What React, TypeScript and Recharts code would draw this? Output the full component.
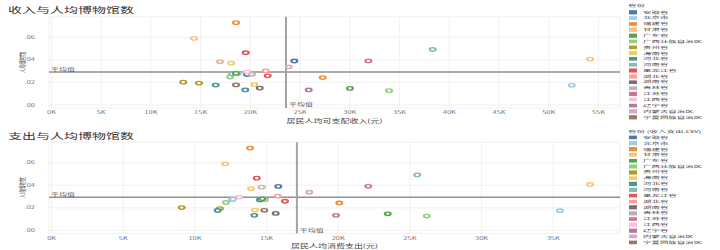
import React from 'react';
import { ScatterChart, Scatter, XAxis, YAxis, CartesianGrid, ReferenceLine } from 'recharts';

const provinces = [
  '安徽省', '北京市', '福建省', '甘肃省', '广东省', '广西壮族自治区', '贵州省', '海南省',
  '河北省', '河南省', '黑龙江省', '湖北省', '湖南省', '吉林省', '江苏省', '江西省',
  '辽宁省', '内蒙古自治区', '宁夏回族自治区', '青海省', '山东省', '山西省', '陕西省', '上海市',
  '四川省', '天津市', '西藏自治区', '新疆维吾尔自治区', '云南省', '浙江省', '重庆市',
];

const palette = [
  '#4E79A7', '#A0CBE8', '#F28E2B', '#FFBE7D', '#59A14F', '#8CD17D', '#B6992D', '#F1CE63',
  '#499894', '#86BCB6', '#E15759', '#FF9D9A', '#79706E', '#BAB0AC', '#D37295', '#FABFD2',
  '#B07AA1', '#D4A6C8', '#9D7660', '#D7B5A6',
];

// 居民人均可支配收入 (元)
const income = [
  19660, 52310, 27270, 14330, 30010, 17950, 14830, 20390,
  19490, 18150, 19530, 21540, 20940, 20160, 31860, 19660,
  25860, 23850, 18550, 16940, 24410, 18750, 18550, 54150,
  18550, 33940, 13250, 18050, 16510, 38330, 21740,
];

// 居民人均消费支出 (元)
const expense = [
  14540, 35470, 20070, 12110, 23450, 12160, 11740, 14190,
  14140, 12600, 14310, 15770, 15630, 14880, 22090, 13090,
  19840, 17980, 14840, 14650, 15810, 12650, 13840, 37560,
  14700, 26170, 9070, 13910, 11580, 25510, 16280,
];

// 人均博物馆
const museums = [
  0.0270, 0.0174, 0.0243, 0.0590, 0.0147, 0.0247, 0.0193, 0.0180,
  0.0133, 0.0274, 0.0463, 0.0303, 0.0150, 0.0272, 0.0391, 0.0294,
  0.0133, 0.0338, 0.0178, 0.0383, 0.0390, 0.0276, 0.0730, 0.0407,
  0.0280, 0.0127, 0.0202, 0.0371, 0.0176, 0.0492, 0.0258,
];

const incomeTicks = [0, 5000, 10000, 15000, 20000, 25000, 30000, 35000, 40000, 45000, 50000, 55000];
const expenseTicks = [0, 5000, 10000, 15000, 20000, 25000, 30000, 35000];
const museumTicks = [0, 0.02, 0.04, 0.06];

const avgIncome = 23580;
const avgExpense = 17110;
const avgMuseum = 0.0293;

// number of legend rows visible in the reference (the rest is cut off by the view)
const LEGEND_ROWS = 19;

const FONT = "'Noto Sans CJK SC', 'Noto Sans', sans-serif";
const SCALE = 0.6;
const PANEL_H = 208.5;

const incomeData = provinces.map((p, i) => ({ name: p, x: income[i], y: museums[i], color: palette[i % palette.length] }));
const expenseData = provinces.map((p, i) => ({ name: p, x: expense[i], y: museums[i], color: palette[i % palette.length] }));

const Ring = (props: any) => {
  const { cx, cy, payload } = props;
  if (cx == null || cy == null) return null;
  return <circle cx={cx} cy={cy} r={2.9} fill="#ffffff" stroke={payload.color} strokeWidth={2.2} />;
};

const kFmt = (v: number) => `${Math.round(v / 1000)}K`;
const yFmt = (v: number) => v.toFixed(2).replace(/^0/, '');

type PanelProps = {
  title: string;
  data: any[];
  ticks: number[];
  domain: [number, number];
  xLabel: string;
  avgX: number;
  legendTitle: string;
};

const Panel = ({ title, data, ticks, domain, xLabel, avgX, legendTitle }: PanelProps) => (
  <div style={{ position: 'relative', width: 720, height: PANEL_H, overflow: 'hidden' }}>
    <div style={{ position: 'absolute', left: 8, top: 9, fontSize: 14, lineHeight: '15px', color: '#333', whiteSpace: 'nowrap' }}>{title}</div>
    <div style={{ position: 'absolute', left: 0, top: 0 }}>
      <ScatterChart width={625} height={208} margin={{ top: 28, right: 5, bottom: 0, left: 0 }}>
        <CartesianGrid stroke="#eeeeee" strokeWidth={1} />
        <XAxis
          type="number"
          dataKey="x"
          domain={domain}
          ticks={ticks}
          tickFormatter={kFmt}
          axisLine={false}
          tickLine={false}
          tickSize={0}
          tickMargin={5}
          height={28}
          allowDataOverflow
          tick={{ fontSize: 7.5, fill: '#777', fontFamily: FONT }}
          label={{ value: xLabel, position: 'insideBottom', offset: 3, style: { fontSize: 9, fill: '#444', fontFamily: FONT } }}
        />
        <YAxis
          type="number"
          dataKey="y"
          domain={[-0.0027, 0.0782]}
          ticks={museumTicks}
          tickFormatter={yFmt}
          axisLine={false}
          tickLine={false}
          tickSize={0}
          tickMargin={14}
          width={49}
          allowDataOverflow
          tick={{ fontSize: 7.5, fill: '#777', fontFamily: FONT }}
          label={{
            content: (p: any) => {
              const vb = p.viewBox || { y: 28, height: 152 };
              const cy = vb.y + vb.height / 2;
              return (
                <text x={22} y={cy} transform={`rotate(-90 22 ${cy})`} textAnchor="middle" dominantBaseline="central" fontSize={7} fill="#444" fontFamily={FONT}>
                  人均博物馆
                </text>
              );
            },
          }}
        />
        <ReferenceLine
          y={avgMuseum}
          stroke="#8f8f8f"
          strokeWidth={2.4}
          ifOverflow="extendDomain"
          label={{ value: '平均值', position: 'insideBottomLeft', offset: 2, style: { fontSize: 8, fill: '#555', fontFamily: FONT } }}
        />
        <ReferenceLine
          x={avgX}
          stroke="#a3a3a3"
          strokeWidth={2}
          label={{ value: '平均值', position: 'insideBottomLeft', offset: 3, style: { fontSize: 8, fill: '#555', fontFamily: FONT } }}
        />
        <Scatter data={data} shape={Ring} isAnimationActive={false} />
      </ScatterChart>
    </div>
    <div style={{ position: 'absolute', left: 627, top: 0, width: 93, height: PANEL_H, fontSize: 6.6, color: '#444' }}>
      <div style={{ position: 'absolute', left: 1, top: 4, lineHeight: '10px', whiteSpace: 'nowrap', transform: 'scaleX(1.28)', transformOrigin: '0 0' }}>{legendTitle}</div>
      {provinces.slice(0, LEGEND_ROWS).map((p, i) => (
        <div key={p} style={{ position: 'absolute', left: 0, top: 15.6 + i * 9.72, height: 9.72, width: 93, whiteSpace: 'nowrap' }}>
          <div style={{ position: 'absolute', left: 2, top: 1.6, width: 8, height: 6.5, background: palette[i % palette.length] }} />
          <div style={{ position: 'absolute', left: 16, top: 0, lineHeight: '9.72px', transform: 'scaleX(1.28)', transformOrigin: '0 0' }}>{p}</div>
        </div>
      ))}
    </div>
  </div>
);

export default function App() {
  return (
    <div
      style={{
        position: 'absolute',
        left: 0,
        top: 0,
        width: 720,
        height: PANEL_H * 2,
        transform: `scaleY(${SCALE})`,
        transformOrigin: '0 0',
        fontFamily: FONT,
        background: '#fff',
      }}
    >
      <Panel
        title="收入与人均博物馆数"
        data={incomeData}
        ticks={incomeTicks}
        domain={[-250, 57160]}
        xLabel="居民人均可支配收入(元)"
        avgX={avgIncome}
        legendTitle="省份"
      />
      <Panel
        title="支出与人均博物馆数"
        data={expenseData}
        ticks={expenseTicks}
        domain={[-190, 39660]}
        xLabel="居民人均消费支出(元)"
        avgX={avgExpense}
        legendTitle="省份 (收入支出.csv)"
      />
    </div>
  );
}
